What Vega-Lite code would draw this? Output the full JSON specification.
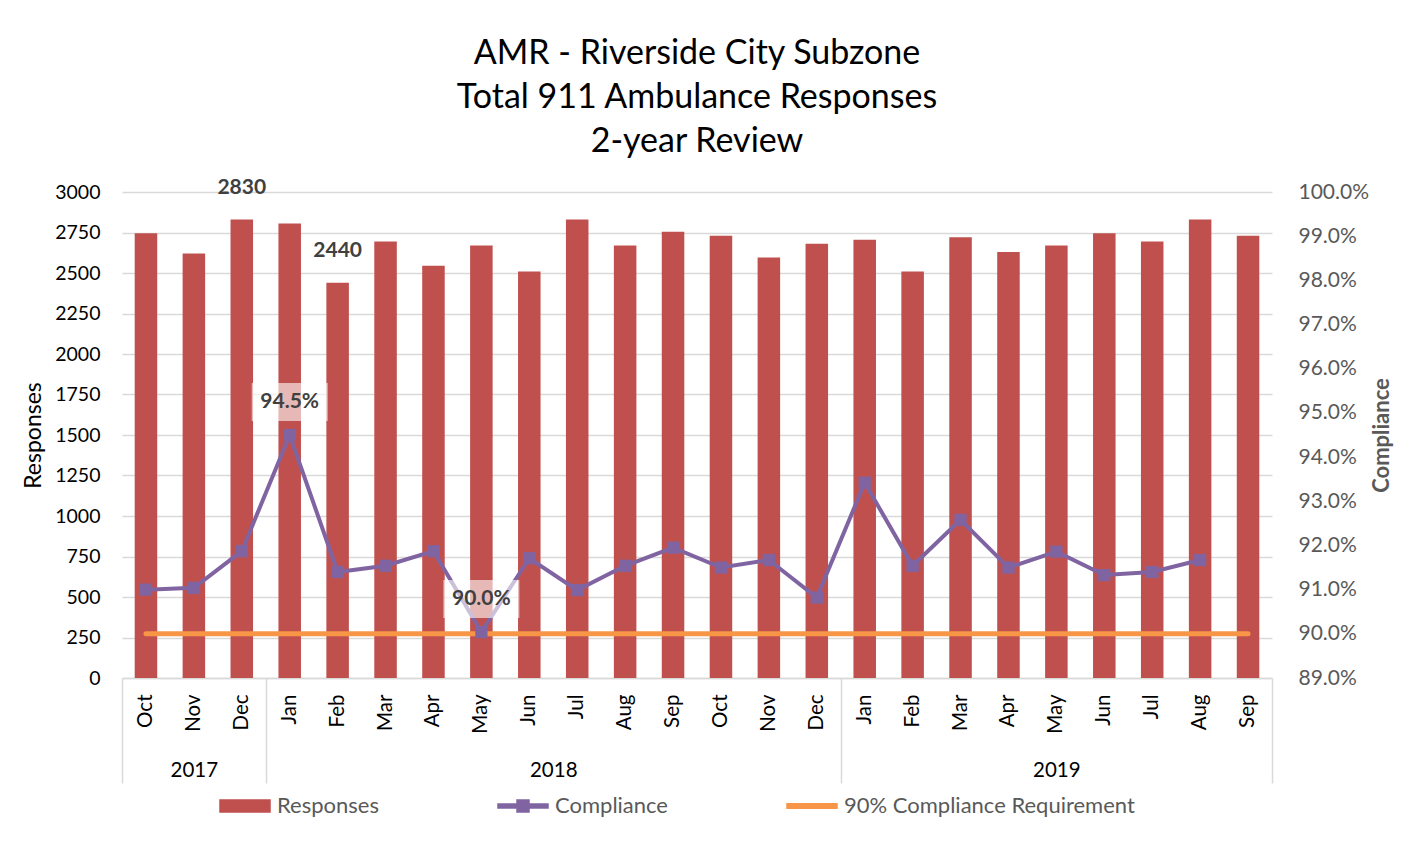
{
  "$schema": "https://vega.github.io/schema/vega-lite/v6.json",
  "width": 1150,
  "height": 486,
  "autosize": {"type": "none"},
  "padding": {"left": 122, "top": 192, "right": 131, "bottom": 166},
  "background": "white",
  "config": {"font": "Lato", "view": {"stroke": null}},
  "title": {
    "text": ["AMR - Riverside City Subzone", "Total 911 Ambulance Responses", "2-year Review"],
    "fontSize": 34, "fontWeight": "normal", "color": "#000000", "lineHeight": 44,
    "anchor": "middle", "frame": "group", "offset": 18
  },
  "layer": [
    {
      "data": {"values": [
        {"date": "2017-10-15", "responses": 2745, "compliance": 0.9100},
        {"date": "2017-11-15", "responses": 2620, "compliance": 0.9104},
        {"date": "2017-12-15", "responses": 2830, "compliance": 0.9187},
        {"date": "2018-01-15", "responses": 2805, "compliance": 0.9450},
        {"date": "2018-02-15", "responses": 2440, "compliance": 0.9140},
        {"date": "2018-03-15", "responses": 2695, "compliance": 0.9154},
        {"date": "2018-04-15", "responses": 2545, "compliance": 0.9187},
        {"date": "2018-05-15", "responses": 2670, "compliance": 0.9004},
        {"date": "2018-06-15", "responses": 2510, "compliance": 0.9171},
        {"date": "2018-07-15", "responses": 2830, "compliance": 0.9099},
        {"date": "2018-08-15", "responses": 2670, "compliance": 0.9154},
        {"date": "2018-09-15", "responses": 2755, "compliance": 0.9195},
        {"date": "2018-10-15", "responses": 2730, "compliance": 0.9150},
        {"date": "2018-11-15", "responses": 2595, "compliance": 0.9167},
        {"date": "2018-12-15", "responses": 2680, "compliance": 0.9082},
        {"date": "2019-01-15", "responses": 2705, "compliance": 0.9342},
        {"date": "2019-02-15", "responses": 2510, "compliance": 0.9154},
        {"date": "2019-03-15", "responses": 2720, "compliance": 0.9258},
        {"date": "2019-04-15", "responses": 2630, "compliance": 0.9150},
        {"date": "2019-05-15", "responses": 2670, "compliance": 0.9186},
        {"date": "2019-06-15", "responses": 2745, "compliance": 0.9133},
        {"date": "2019-07-15", "responses": 2695, "compliance": 0.9140},
        {"date": "2019-08-15", "responses": 2830, "compliance": 0.9167},
        {"date": "2019-09-15", "responses": 2730, "compliance": null}
      ]},
      "encoding": {
        "x": {
          "field": "date", "timeUnit": "utcyearmonth", "type": "ordinal",
          "scale": {"paddingInner": 0.53, "paddingOuter": 0.265},
          "axis": {
            "format": "%b", "labelAngle": -90, "labelFontSize": 20.5, "labelColor": "#000000",
            "labelPadding": 16, "ticks": false, "domainColor": "#d9d9d9", "domainWidth": 1.5,
            "title": null, "grid": false, "labelOverlap": false, "orient": "bottom"
          }
        }
      },
      "layer": [
        {
          "encoding": {
            "y": {
              "field": "responses", "type": "quantitative",
              "scale": {"domain": [0, 3000], "nice": false},
              "axis": {
                "values": [0, 250, 500, 750, 1000, 1250, 1500, 1750, 2000, 2250, 2500, 2750, 3000],
                "format": "d",
                "title": "Responses", "titleFontSize": 23, "titleFontWeight": "normal", "titleColor": "#000000",
                "titlePadding": 9, "labelFontSize": 19.5, "labelColor": "#000000", "labelPadding": 22,
                "ticks": false, "domain": false, "gridColor": "#d9d9d9", "gridWidth": 1.5, "orient": "left"
              }
            }
          },
          "layer": [
            {
              "mark": {"type": "bar"},
              "encoding": {
                "color": {
                  "datum": "Responses",
                  "scale": {"domain": ["Responses", "Compliance", "90% Compliance Requirement"], "range": ["#c0504d", "#8064a2", "#f79646"]},
                  "legend": {
                    "title": null, "orient": "none", "legendX": 97, "legendY": 588, "direction": "horizontal",
                    "labelFontSize": 22, "labelColor": "#595959", "labelOffset": 6, "columnPadding": 116,
                    "labelLimit": 500,
                    "symbolSize": 2500, "symbolType": "M-1,-0.24H1V0.24H-1Z",
                    "encode": {
                      "symbols": {"update": {
                        "shape": {"signal": "datum.value === 'Responses' ? 'M-1,-0.24H1V0.24H-1Z' : datum.value === 'Compliance' ? 'M-1,-0.08H-0.24V-0.24H0.24V-0.08H1V0.08H0.24V0.24H-0.24V0.08H-1Z' : 'M-1,-0.09H1V0.09H-1Z'"},
                        "fill": {"scale": "color", "field": "value"},
                        "stroke": {"value": "transparent"},
                        "opacity": {"value": 1},
                        "fillOpacity": {"value": 1}
                      }}
                    }
                  }
                }
              }
            },
            {
              "transform": [{"filter": "datum.responses == 2440 || (datum.responses == 2830 && utcyear(datum.date) == 2017)"}],
              "mark": {"type": "text", "dy": -32, "fontSize": 21, "fontWeight": "bold", "color": "#404040"},
              "encoding": {"text": {"field": "responses", "type": "quantitative"}}
            }
          ]
        },
        {
          "encoding": {
            "y": {
              "type": "quantitative",
              "scale": {"domain": [0.89, 1.0], "nice": false, "zero": false},
              "axis": {
                "values": [0.89, 0.90, 0.91, 0.92, 0.93, 0.94, 0.95, 0.96, 0.97, 0.98, 0.99, 1.0],
                "format": ".1%", "orient": "right", "title": "Compliance", "titleFontSize": 22,
                "titleFontWeight": "bold", "titleColor": "#595959", "titlePadding": 3, "titleAngle": -90,
                "titleBaseline": "top",
                "labelFontSize": 21, "labelColor": "#595959", "labelPadding": 26,
                "ticks": false, "domain": false, "grid": false
              }
            }
          },
          "layer": [
            {
              "mark": {"type": "line", "strokeWidth": 5, "strokeCap": "round"},
              "encoding": {
                "y": {"datum": 0.9, "type": "quantitative"},
                "color": {"datum": "90% Compliance Requirement"}
              }
            },
            {
              "transform": [{"filter": "datum.compliance != null"}],
              "mark": {"type": "line", "strokeWidth": 4},
              "encoding": {
                "y": {"field": "compliance", "type": "quantitative"},
                "color": {"datum": "Compliance"}
              }
            },
            {
              "transform": [{"filter": "datum.compliance != null"}],
              "mark": {"type": "point", "shape": "square", "filled": true, "size": 150, "opacity": 1},
              "encoding": {
                "y": {"field": "compliance", "type": "quantitative"},
                "color": {"datum": "Compliance"}
              }
            },
            {
              "transform": [{"filter": "datum.compliance >= 0.945 || (datum.compliance != null && datum.compliance <= 0.9005)"}],
              "mark": {"type": "point", "shape": "M-1,-0.5H1V0.5H-1Z", "size": 5776, "filled": true, "color": "#ffffff", "opacity": 0.6, "strokeWidth": 0, "yOffset": -33},
              "encoding": {"y": {"field": "compliance", "type": "quantitative"}}
            },
            {
              "transform": [{"filter": "datum.compliance >= 0.945 || (datum.compliance != null && datum.compliance <= 0.9005)"}],
              "mark": {"type": "text", "dy": -33, "fontSize": 21, "fontWeight": "bold", "color": "#404040"},
              "encoding": {
                "y": {"field": "compliance", "type": "quantitative"},
                "text": {"field": "compliance", "type": "quantitative", "format": ".1%"}
              }
            }
          ]
        }
      ],
      "resolve": {"scale": {"y": "independent"}}
    },
    {
      "data": {"values": [
        {"year": "2017", "mid": 1.5},
        {"year": "2018", "mid": 9},
        {"year": "2019", "mid": 19.5}
      ]},
      "mark": {"type": "point", "opacity": 0},
      "encoding": {
        "x": {
          "field": "mid", "type": "quantitative",
          "scale": {"domain": [0, 24], "nice": false, "zero": false},
          "axis": {
            "orient": "bottom", "values": [0, 1.5, 3, 9, 15, 19.5, 24],
            "labelExpr": "datum.value == 1.5 ? '2017' : datum.value == 9 ? '2018' : datum.value == 19.5 ? '2019' : ''",
            "tickSize": 105, "tickColor": "#d9d9d9", "tickWidth": 1.5,
            "tickOpacity": {"condition": {"test": "indexof([0, 3, 15, 24], datum.value) >= 0", "value": 1}, "value": 0},
            "labelPadding": -23, "labelFontSize": 20.5, "labelColor": "#000000", "labelOverlap": false,
            "labelFlush": false, "domain": false, "grid": false, "title": null
          }
        }
      }
    }
  ],
  "resolve": {"scale": {"x": "independent"}, "axis": {"x": "independent"}}
}
